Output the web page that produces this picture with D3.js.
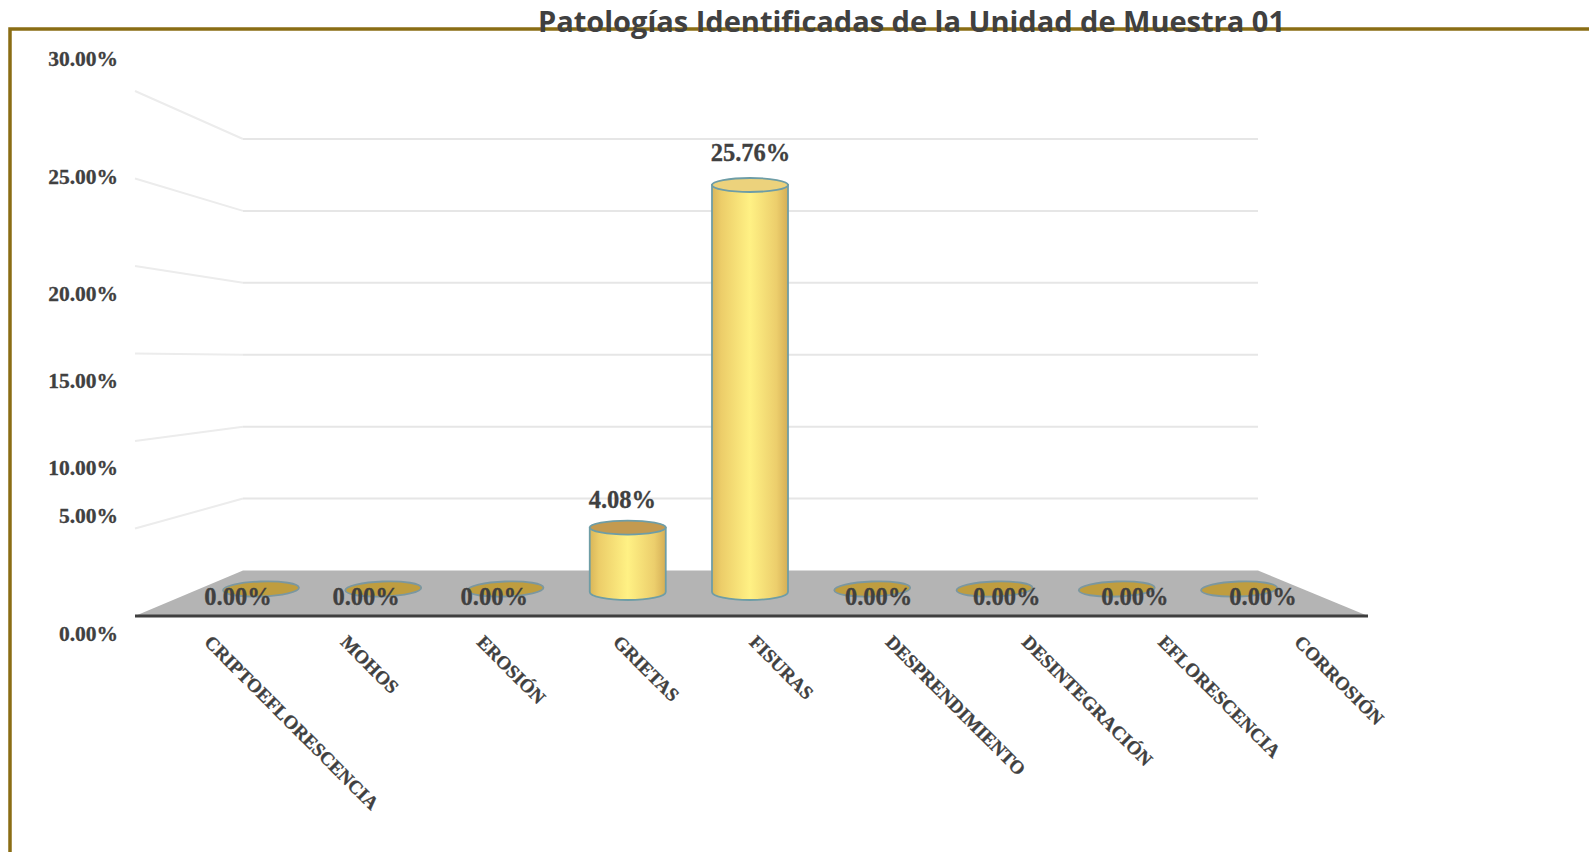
<!DOCTYPE html>
<html lang="es">
<head>
<meta charset="utf-8">
<title>Patologías Identificadas de la Unidad de Muestra 01</title>
<script src="https://cdn.jsdelivr.net/npm/d3@7"></script>
<style>
html,body{margin:0;padding:0;background:#fff;overflow:hidden}
svg{display:block}
.serif{font-family:"Liberation Serif",serif;font-weight:700;fill:#404040;stroke:#404040;stroke-width:.3px}
</style>
</head>
<body>
<svg id="c" width="1589" height="852"></svg>
<script>
const titleText = "Patologías Identificadas de la Unidad de Muestra 01";
const categories = ["CRIPTOEFLORESCENCIA","MOHOS","EROSIÓN","GRIETAS","FISURAS","DESPRENDIMIENTO","DESINTEGRACIÓN","EFLORESCENCIA","CORROSIÓN"];
const values = [0,0,0,4.08,25.76,0,0,0,0];
const gridTicks = [5,10,15,20,25,30];
const axisTicks = [0,5,10,15,20,25,30];
const axisLabelY = [634,516,468,381,294,177,59];

const svg = d3.select("#c");
const defs = svg.append("defs");
const grad = defs.append("linearGradient").attr("id","cyl").attr("x1",0).attr("x2",1).attr("y1",0).attr("y2",0);
[[0,"#d9b65a"],[0.12,"#eccd69"],[0.5,"#fff184"],[0.85,"#ecce6c"],[1,"#d4ae56"]].forEach(([o,c])=>grad.append("stop").attr("offset",o).attr("stop-color",c));

// perspective walls
const yBack = d3.scaleLinear().domain([0,30]).range([570.5,139]);
const yFront = d3.scaleLinear().domain([0,30]).range([616,91]);
const xWall = {front:135, back:243, right:1258, frontR:1368};

// frame
svg.append("path")
  .attr("d",`M10,852V29H1589`)
  .attr("fill","none").attr("stroke","#8a6d14").attr("stroke-width",3.5);

// gridlines
const grid = svg.append("g").attr("fill","none");
grid.selectAll(".wall").data(gridTicks).join("line").attr("class","wall")
  .attr("x1",xWall.front).attr("x2",xWall.back)
  .attr("y1",d=>yFront(d)).attr("y2",d=>yBack(d))
  .attr("stroke","#ececec").attr("stroke-width",2);
grid.selectAll(".back").data(gridTicks).join("line").attr("class","back")
  .attr("x1",xWall.back).attr("x2",xWall.right)
  .attr("y1",d=>yBack(d)).attr("y2",d=>yBack(d))
  .attr("stroke","#e6e6e6").attr("stroke-width",2);

// floor
svg.append("path")
  .attr("d",d3.line()([[xWall.front,yFront(0)],[xWall.back,yBack(0)],[xWall.right,yBack(0)],[xWall.frontR,yFront(0)]])+"Z")
  .attr("fill","#b4b4b4");
svg.append("line").attr("x1",xWall.front).attr("x2",xWall.frontR)
  .attr("y1",yFront(0)).attr("y2",yFront(0))
  .attr("stroke","#3f3f3f").attr("stroke-width",3);

// y axis labels
const yLabel = d3.scaleLinear().domain(axisTicks).range(axisLabelY);
const yAxis = svg.append("g").attr("transform","translate(118,0)")
  .call(d3.axisLeft(yLabel).tickValues(axisTicks).tickSize(0).tickPadding(0).tickFormat(d=>d.toFixed(2)+"%"));
yAxis.select(".domain").remove();
yAxis.selectAll("text").attr("class","serif").style("font-size","21.5px");

// cylinders
const x = d3.scalePoint().domain(categories).range([261,1239]);
const h = d3.scaleLinear().domain([0,30]).range([592,118]);
const rx = 38, ry = 7;
const bars = svg.append("g").selectAll("g").data(categories.map((c,i)=>({c,v:values[i]}))).join("g")
  .attr("transform",d=>`translate(${x(d.c)},0)`);
bars.filter(d=>d.v>0).append("path")
  .attr("d",d=>`M${-rx},${h(d.v)}V${h(0)}A${rx},${ry+1} 0 0 0 ${rx},${h(0)}V${h(d.v)}Z`)
  .attr("fill","url(#cyl)").attr("stroke","#6e9da6").attr("stroke-width",1.8);
bars.append("ellipse")
  .attr("cx",0).attr("cy",d=>d.v>0?h(d.v):589)
  .attr("rx",rx).attr("ry",d=>d.v>0?ry:7.5)
  .attr("transform",d=>d.v>0?null:`rotate(-2 0 589)`)
  .attr("fill",d=>d.c==="FISURAS"?"#ecd27c":d.v>0?"#c39a50":"#bf9d3f")
  .attr("stroke",d=>d.v>0?"#6e9da6":"#7b97a0").attr("stroke-width",1.8);

// value labels
const xLabel = d3.scalePoint().domain(categories).range([238,1263]);
svg.append("g").selectAll("text").data(categories.map((c,i)=>({c,v:values[i]}))).join("text")
  .attr("class","serif").attr("text-anchor","middle").attr("dominant-baseline","central")
  .style("font-size","24.5px")
  .attr("x",d=>xLabel(d.c))
  .attr("y",d=>d.v===0?596:d.v>10?152:499)
  .text(d=>d.v.toFixed(2)+"%");

// category axis
const xCat = d3.scalePoint().domain(categories).range([207,1297]);
const xAxis = svg.append("g").attr("transform","translate(0,639)")
  .call(d3.axisBottom(xCat).tickSize(0).tickPadding(0));
xAxis.select(".domain").remove();
xAxis.selectAll("text")
  .attr("class","serif")
  .attr("y",0).attr("dy","0.32em")
  .attr("text-anchor","start").attr("transform","rotate(45)")
  .style("font-size","19px");

// title
svg.append("text").attr("x",538).attr("y",32)
  .attr("textLength",747).attr("lengthAdjust","spacingAndGlyphs")
  .style("font-family",'"Open Sans",sans-serif').style("font-weight",700).style("font-size","29px").style("fill","#404040")
  .text(titleText);
</script>
</body>
</html>
